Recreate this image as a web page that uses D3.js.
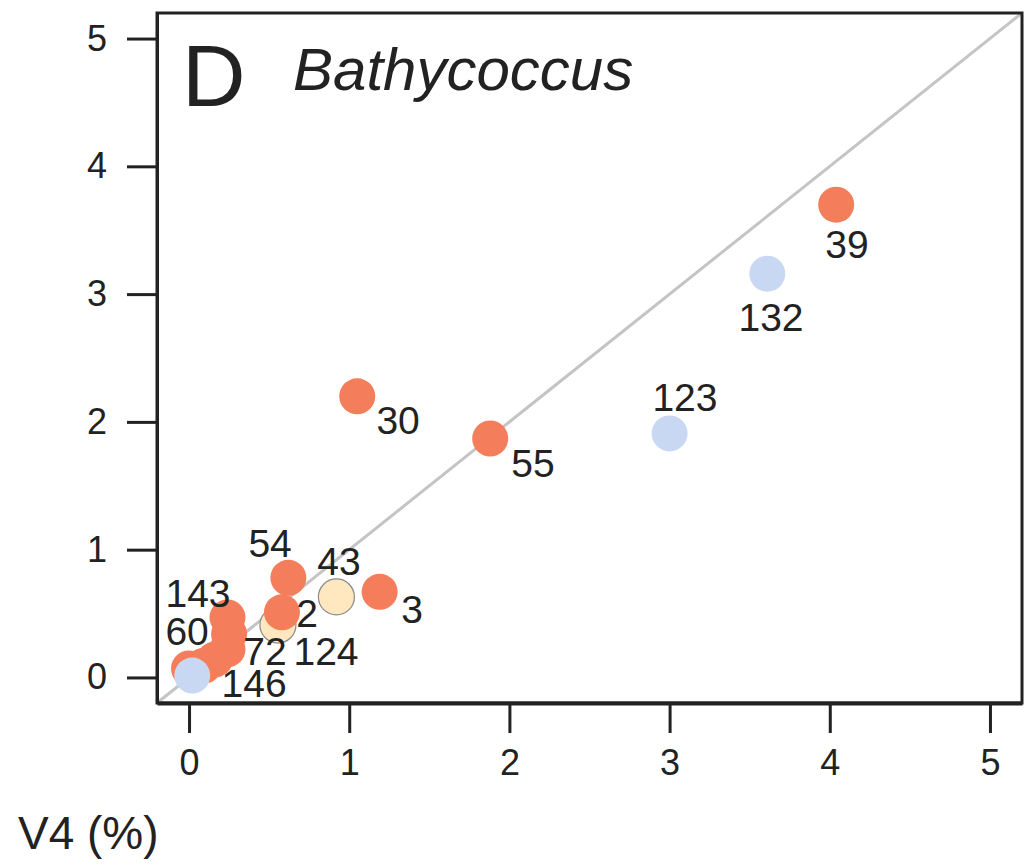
<!DOCTYPE html>
<html>
<head>
<meta charset="utf-8">
<script src="https://cdn.jsdelivr.net/npm/d3@7"></script>
<style>
  body { margin: 0; background: #fff; }
  text { font-family: "Liberation Sans", Arial, sans-serif; fill: #222; }
</style>
</head>
<body>
<script>
////// data

const labels = ["124", "43", "39", "30", "55", "54", "3", "2", "143", "", "", "72", "", "60", "132", "123", "146"];
const groups = ["y", "y", "o", "o", "o", "o", "o", "o", "o", "o", "o", "o", "o", "o", "b", "b", "b"];
const v4 = [0.555, 0.92, 4.04, 1.05, 1.88, 0.62, 1.19, 0.58, 0.24, 0.25, 0.24, 0.16, 0.09, 0.0, 3.61, 3.0, 0.02];
const v9 = [0.41, 0.63, 3.70, 2.20, 1.87, 0.78, 0.67, 0.51, 0.47, 0.34, 0.22, 0.14, 0.09, 0.07, 3.16, 1.91, 0.015];
// where each label sits, in data units
const labX = [0.855, 0.936, 4.107, 1.305, 2.147, 0.506, 1.392, 0.737, 0.056, null, null, 0.474, null, -0.012, 3.633, 3.096, 0.406];
const labY = [0.203, 0.906, 3.39, 2.008, 1.672, 1.047, 0.531, 0.50, 0.656, null, null, 0.203, null, 0.359, 2.82, 2.19, -0.047];

const ticks = [0, 1, 2, 3, 4, 5];

//////

const colors = {o: "#f47d5b", b: "#c9d8f2", y: "#ffe8c0"};

const pts = labels.map((l, i) => ({label: l, g: groups[i], x: v4[i], y: v9[i], lx: labX[i], ly: labY[i]}));

const W = 1027, H = 867;
const mLeft = 157, mRight = 1022, mTop = 13, mBottom = 703;

const x = d3.scaleLinear().domain([-0.2, 5.2]).range([mLeft, mRight]);
const y = d3.scaleLinear().domain([-0.2, 5.2]).range([mBottom, mTop]);

const svg = d3.select("body").append("svg")
    .attr("width", W)
    .attr("height", H);

// diagonal 1:1
svg.append("line")
    .attr("x1", x(-0.2)).attr("y1", y(-0.2))
    .attr("x2", x(5.2)).attr("y2", y(5.2))
    .attr("stroke", "#c4c4c4")
    .attr("stroke-width", 3);

// box
svg.append("rect")
    .attr("x", mLeft).attr("y", mTop)
    .attr("width", mRight - mLeft).attr("height", mBottom - mTop)
    .attr("fill", "none")
    .attr("stroke", "#222")
    .attr("stroke-width", 3);

// points
svg.append("g").selectAll("circle")
    .data(pts)
    .join("circle")
    .attr("cx", d => x(d.x))
    .attr("cy", d => y(d.y))
    .attr("r", 18)
    .attr("fill", d => colors[d.g])
    .attr("stroke", d => d.g === "y" ? "#8a8a8a" : "none")
    .attr("stroke-width", 1.2);

// point labels
svg.append("g").selectAll("text")
    .data(pts.filter(d => d.label !== ""))
    .join("text")
    .attr("x", d => x(d.lx))
    .attr("y", d => y(d.ly))
    .attr("text-anchor", "middle")
    .attr("dominant-baseline", "central")
    .attr("font-size", 39)
    .text(d => d.label);

// axes
const xAxis = svg.append("g")
    .attr("transform", `translate(0,${mBottom})`)
    .call(d3.axisBottom(x).tickValues(ticks).tickFormat(d3.format("d"))
        .tickSize(30).tickSizeOuter(0).tickPadding(16));
const yAxis = svg.append("g")
    .attr("transform", `translate(${mLeft},0)`)
    .call(d3.axisLeft(y).tickValues(ticks).tickFormat(d3.format("d"))
        .tickSize(30).tickSizeOuter(0).tickPadding(20));

xAxis.select(".domain").attr("stroke", "#222").attr("stroke-width", 4);
yAxis.select(".domain").attr("stroke", "#222").attr("stroke-width", 3);
svg.selectAll(".tick line").attr("stroke", "#222").attr("stroke-width", 3);
svg.selectAll(".tick text")
    .attr("font-family", "Liberation Sans, Arial, sans-serif")
    .attr("font-size", 36)
    .attr("fill", "#222");

// panel letter and title
svg.append("text")
    .attr("x", 182).attr("y", 106)
    .attr("font-size", 88)
    .text("D");
svg.append("text")
    .attr("x", 293).attr("y", 90)
    .attr("font-size", 60)
    .attr("font-style", "italic")
    .text("Bathycoccus");

svg.append("text")
    .attr("x", 18).attr("y", 849)
    .attr("font-size", 46)
    .text("V4 (%)");
</script>
</body>
</html>
